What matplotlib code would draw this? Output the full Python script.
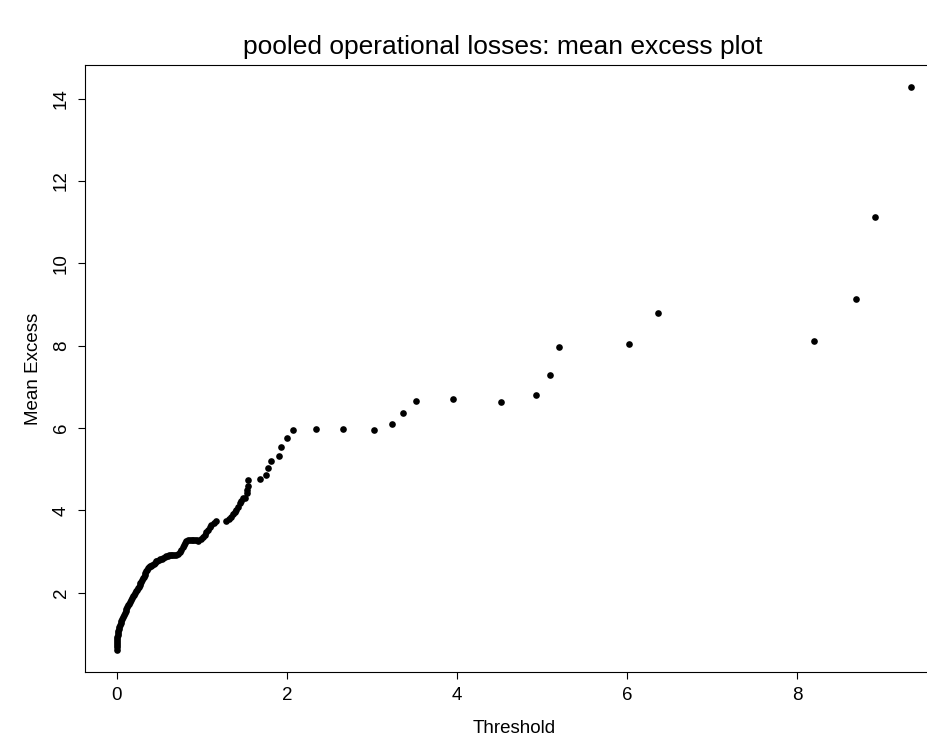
import matplotlib
matplotlib.use('Agg')
import matplotlib.pyplot as plt

plt.rcParams['font.family'] = ['Liberation Sans', 'DejaVu Sans']

# thresholds (sorted losses) and mean excess
threshold = [
    0.000, 0.001, 0.002, 0.003, 0.004, 0.006, 0.008, 0.011, 0.015, 0.019,
    0.024, 0.030, 0.037, 0.045, 0.054, 0.063, 0.073, 0.083, 0.093, 0.103,
    0.113, 0.124, 0.136, 0.148, 0.160, 0.172, 0.183, 0.194, 0.205, 0.216,
    0.227, 0.238, 0.249, 0.259, 0.269, 0.279, 0.289, 0.299, 0.309, 0.319,
    0.328, 0.336, 0.344, 0.352, 0.362, 0.374, 0.388, 0.402, 0.417, 0.432,
    0.447, 0.462, 0.478, 0.494, 0.510, 0.527, 0.545, 0.562, 0.580, 0.598,
    0.616, 0.634, 0.655, 0.678, 0.702, 0.722, 0.742, 0.761, 0.776, 0.790,
    0.803, 0.820, 0.840, 0.859, 0.880, 0.900, 0.918, 0.940, 0.960, 0.996,
    1.018, 1.035, 1.055, 1.074, 1.094, 1.114, 1.140, 1.173,
    1.290, 1.320, 1.349, 1.370, 1.390, 1.408, 1.428, 1.447, 1.466, 1.486,
    1.514, 1.526, 1.532, 1.538, 1.549, 1.679, 1.753, 1.773, 1.812, 1.909,
    1.929, 2.004, 2.074, 2.341, 2.659, 3.024, 3.235, 3.365, 3.514, 3.953,
    4.514, 4.926, 5.094, 5.200, 6.020, 6.365, 8.200, 8.690, 8.918, 9.345,
]
mean_excess = [
    0.62, 0.67, 0.72, 0.77, 0.82, 0.87, 0.92, 0.97, 1.02, 1.07,
    1.12, 1.17, 1.22, 1.27, 1.31, 1.36, 1.41, 1.46, 1.51, 1.56,
    1.61, 1.65, 1.69, 1.73, 1.78, 1.82, 1.86, 1.91, 1.95, 1.99,
    2.03, 2.07, 2.11, 2.15, 2.19, 2.23, 2.27, 2.31, 2.35, 2.39,
    2.44, 2.48, 2.52, 2.56, 2.59, 2.62, 2.64, 2.66, 2.68, 2.70,
    2.73, 2.76, 2.78, 2.79, 2.81, 2.83, 2.85, 2.87, 2.88, 2.89,
    2.91, 2.92, 2.92, 2.92, 2.92, 2.94, 2.98, 3.04, 3.10, 3.16,
    3.21, 3.25, 3.28, 3.28, 3.28, 3.28, 3.28, 3.29, 3.26, 3.30,
    3.35, 3.40, 3.47, 3.53, 3.59, 3.65, 3.70, 3.73,
    3.73, 3.78, 3.85, 3.90, 3.96, 4.01, 4.09, 4.17, 4.22, 4.29,
    4.31, 4.43, 4.50, 4.58, 4.73, 4.77, 4.87, 5.04, 5.21, 5.33,
    5.55, 5.75, 5.94, 5.97, 5.97, 5.94, 6.09, 6.36, 6.65, 6.70,
    6.62, 6.79, 7.28, 7.96, 8.04, 8.79, 8.11, 9.13, 11.13, 14.27,
]

x_ticks = [0, 2, 4, 6, 8]
y_ticks = [2, 4, 6, 8, 10, 12, 14]

fig = plt.figure(figsize=(9.28, 7.38), dpi=100)
ax = fig.add_axes([85 / 928, 66 / 738, 858 / 928, 607 / 738])

ax.plot(threshold, mean_excess, 'o', color='black', ms=4.8, mew=0)

# R-style 4% padding around the data range
xr = max(threshold) - min(threshold)
yr = max(mean_excess) - min(mean_excess)
ax.set_xlim(min(threshold) - 0.04 * xr, max(threshold) + 0.04 * xr)
ax.set_ylim(min(mean_excess) - 0.04 * yr, max(mean_excess) + 0.04 * yr)

ax.set_xticks(x_ticks)
ax.set_yticks(y_ticks)
ax.tick_params(axis='both', direction='out', length=5, width=0.8, labelsize=13.5, pad=6)
ax.tick_params(axis='y', labelrotation=90)
for lbl in ax.get_yticklabels():
    lbl.set_va('center')

for s in ax.spines.values():
    s.set_linewidth(0.8)

ax.set_xlabel('Threshold', fontsize=13.5, labelpad=11)
ax.set_ylabel('Mean Excess', fontsize=13.5, labelpad=8)
fig.text(503 / 928, 1 - 47 / 738, 'pooled operational losses: mean excess plot',
         ha='center', va='center', fontsize=19)

fig.savefig('out.png', dpi=100)
